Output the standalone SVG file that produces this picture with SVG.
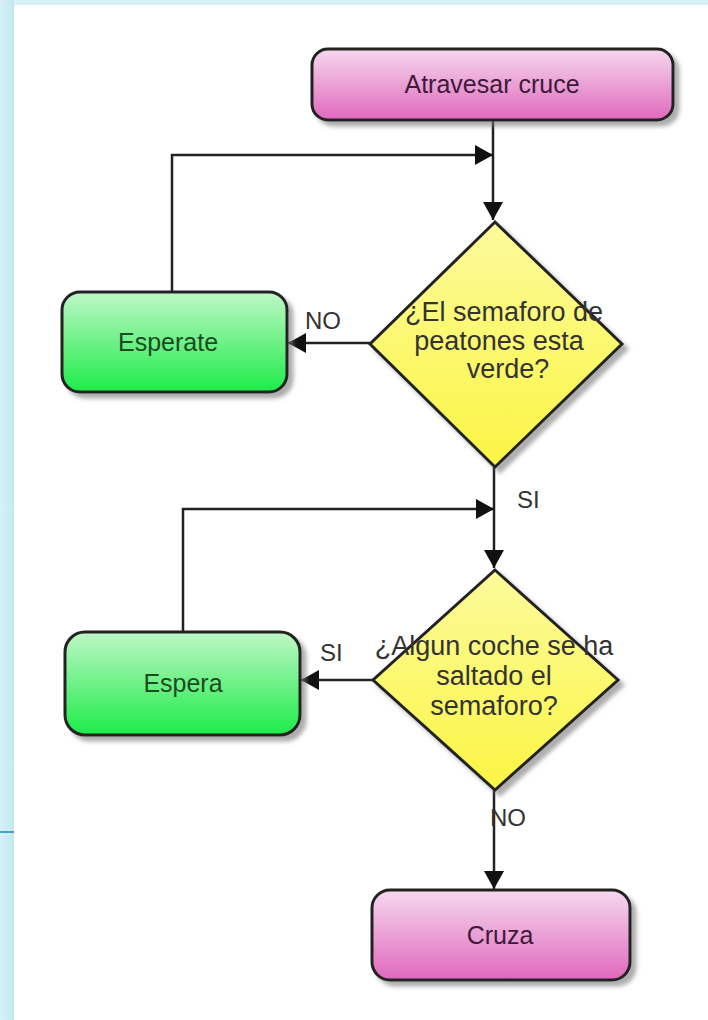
<svg xmlns="http://www.w3.org/2000/svg" width="708" height="1020" viewBox="0 0 708 1020">
  <defs>
    <linearGradient id="pink" x1="0" y1="0" x2="0" y2="1">
      <stop offset="0" stop-color="#f6d8ee"/>
      <stop offset="1" stop-color="#e068bd"/>
    </linearGradient>
    <linearGradient id="green" x1="0" y1="0" x2="0" y2="1">
      <stop offset="0" stop-color="#bff7c6"/>
      <stop offset="1" stop-color="#1cec48"/>
    </linearGradient>
    <linearGradient id="yellow" x1="0" y1="0" x2="0" y2="1">
      <stop offset="0" stop-color="#fcfb9c"/>
      <stop offset="1" stop-color="#fbf543"/>
    </linearGradient>
    <linearGradient id="strip" x1="0" y1="0" x2="1" y2="0">
      <stop offset="0" stop-color="#d6f2f8"/>
      <stop offset="1" stop-color="#c4e8f0"/>
    </linearGradient>
    <filter id="shadow" x="-10%" y="-10%" width="130%" height="130%">
      <feDropShadow dx="5" dy="5" stdDeviation="2" flood-color="#777" flood-opacity="0.6"/>
    </filter>
    <marker id="arrow" markerUnits="userSpaceOnUse" markerWidth="20" markerHeight="20" refX="18" refY="10" orient="auto">
      <path d="M0,0 L18,10 L0,20 Z" fill="#111"/>
    </marker>
  </defs>
  <style>
    .box { stroke: #242424; stroke-width: 3; filter: url(#shadow); }
    .conn { fill: none; stroke: #222; stroke-width: 2.5; }
    .lbl { font-family: "Liberation Sans", Arial, sans-serif; font-size: 25px; text-anchor: middle; }
    .pinkt { fill: #3d1a3a; }
    .greent { fill: #1d4a22; }
    .dt { fill: #333; font-size: 27px; }
    .edge { font-family: "Liberation Sans", Arial, sans-serif; font-size: 24px; fill: #333; }
  </style>

  <rect x="0" y="0" width="708" height="1020" fill="#ffffff"/>
  <rect x="0" y="0" width="708" height="5" fill="#d6f2f8"/>
  <rect x="0" y="0" width="14" height="1020" fill="url(#strip)"/>
  <rect x="0" y="831" width="14" height="2" fill="#3fa6c6"/>

  <g id="connectors">
    <path class="conn" d="M493,120 L493,220" marker-end="url(#arrow)"/>
    <path class="conn" d="M172,292 L172,155 L493,155" marker-end="url(#arrow)"/>
    <path class="conn" d="M370,343 L288,343" marker-end="url(#arrow)"/>
    <path class="conn" d="M494,467 L494,568" marker-end="url(#arrow)"/>
    <path class="conn" d="M183,632 L183,509 L494,509" marker-end="url(#arrow)"/>
    <path class="conn" d="M373,680 L301,680" marker-end="url(#arrow)"/>
    <path class="conn" d="M494,790 L494,889" marker-end="url(#arrow)"/>
    <text class="edge" x="305" y="329">NO</text>
    <text class="edge" x="517" y="508">SI</text>
    <text class="edge" x="320" y="661">SI</text>
    <text class="edge" x="490" y="826">NO</text>
  </g>

  <g id="atravesar">
    <rect class="box" x="312" y="49" width="361" height="71" rx="16" fill="url(#pink)"/>
    <text class="lbl pinkt" x="492" y="93">Atravesar cruce</text>
  </g>

  <g id="semaforo-peatones">
    <polygon class="box" points="495,222 622,344 495,467 370,344" fill="url(#yellow)"/>
    <text class="lbl dt" x="504" y="321">¿El semaforo de</text>
    <text class="lbl dt" x="499" y="350">peatones esta</text>
    <text class="lbl dt" x="508" y="378">verde?</text>
  </g>

  <g id="esperate">
    <rect class="box" x="62" y="292" width="225" height="100" rx="18" fill="url(#green)"/>
    <text class="lbl greent" x="168" y="351">Esperate</text>
  </g>

  <g id="coche-saltado">
    <polygon class="box" points="495,570 618,680 495,790 373,680" fill="url(#yellow)"/>
    <text class="lbl dt" x="494" y="655">¿Algun coche se ha</text>
    <text class="lbl dt" x="494" y="685">saltado el</text>
    <text class="lbl dt" x="494" y="715">semaforo?</text>
  </g>

  <g id="espera">
    <rect class="box" x="65" y="632" width="235" height="103" rx="20" fill="url(#green)"/>
    <text class="lbl greent" x="183" y="692">Espera</text>
  </g>

  <g id="cruza">
    <rect class="box" x="372" y="890" width="258" height="90" rx="18" fill="url(#pink)"/>
    <text class="lbl pinkt" x="500" y="944">Cruza</text>
  </g>
</svg>
